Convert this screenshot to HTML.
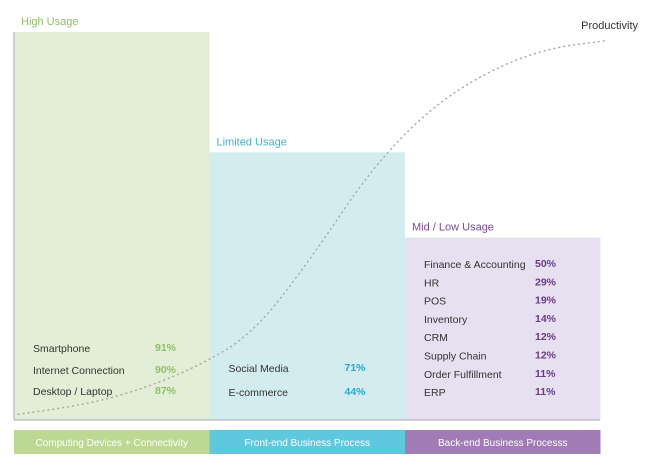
<!DOCTYPE html>
<html><head><meta charset="utf-8"><style>
body{margin:0;background:#fff;}
svg text{font-family:"Liberation Sans",sans-serif;}
</style></head><body>
<svg width="646" height="470" viewBox="0 0 646 470" xmlns="http://www.w3.org/2000/svg">
<g id="blocks"></g>
<line x1="14" y1="32" x2="14" y2="420" stroke="#b8b8b8" stroke-width="1.2"/>
<line x1="14" y1="420" x2="600" y2="420" stroke="#b8b8b8" stroke-width="1.2"/>
<path id="curve" fill="none" stroke="#a8a8a8" stroke-width="1.4" stroke-dasharray="1 4" stroke-linecap="round"/>
<text x="638" y="29" font-size="11" fill="#333" text-anchor="end">Productivity</text>
<g id="items"></g>
<g id="bands"></g>
</svg>
<script>
const groups = ["High Usage","Limited Usage","Mid / Low Usage"];
const groupHeights = [100, 69, 47];
const bandLabels = ["Computing Devices + Connectivity","Front-end Business Process","Back-end Business Processs"];
const items0 = ["Smartphone","Internet Connection","Desktop / Laptop"];
const vals0 = [91, 90, 87];
const items1 = ["Social Media","E-commerce"];
const vals1 = [71, 44];
const items2 = ["Finance & Accounting","HR","POS","Inventory","CRM","Supply Chain","Order Fulfillment","ERP"];
const vals2 = [50, 29, 19, 14, 12, 12, 11, 11];
const curveX = [0, 10, 20, 30, 40, 50, 60, 70, 80, 90, 100];
const curveY = [1, 3, 7, 13, 22, 42, 65, 81, 91, 97, 99];

const NS="http://www.w3.org/2000/svg";
const x0=14, colW=195.5, baseY=420, topY=32;
const yScale = v => baseY - v/100*(baseY-topY);
const cx = v => 18 + v/100*(605-18);
const cy = v => 418 - v/100*(418-37);
const fills=["#e2eed6","#d3ecef","#e6e0f0"];
const titleCol=["#8fc065","#3fb2cf","#7a4a92"];
const valCol=["#8fc065","#2aa9cc","#6b3a87"];
const bandCol=["#bcd892","#5ec8de","#a07bb5"];
function el(tag,attrs,parent,text){const e=document.createElementNS(NS,tag);for(const k in attrs)e.setAttribute(k,attrs[k]);if(text!==undefined)e.textContent=text;parent.appendChild(e);return e;}
const blocks=document.getElementById('blocks');
const bands=document.getElementById('bands');
const itemsG=document.getElementById('items');
groups.forEach((g,i)=>{
  const x=x0+i*colW, y=yScale(groupHeights[i]);
  const r=el('rect',{x:x,y:y,width:colW,height:baseY-y,fill:fills[i]},blocks);
  
  
  const t=el('text',{x:x+7,y:y-7,'font-size':11,fill:titleCol[i]},blocks,g);
  
  
  const b=el('rect',{x:x,y:430,width:colW,height:24,fill:bandCol[i]},bands);
  
  
  const bt=el('text',{x:x+colW/2,y:446,'font-size':10,fill:'#fff','text-anchor':'middle'},bands,bandLabels[i]);
  
  
});
function list(items,vals,i,ys,px){
  const x=x0+i*colW;
  items.forEach((n,k)=>{
    const a=el('text',{x:x+19,y:ys[k],'font-size':10.5,fill:'#333'},itemsG,n);
    
    
    const b=el('text',{x:x+px,y:ys[k]-1,'font-size':10.5,'font-weight':'bold',fill:valCol[i]},itemsG,vals[k]+'%');
    
    
  });
}
list(items0,vals0,0,[352,374,395],141);
list(items1,vals1,1,[372,396],135);
list(items2,vals2,2,items2.map((_,k)=>268+k*18.3),130);
let d='';
curveX.forEach((v,k)=>{d+=(k?'L':'M')+cx(v).toFixed(1)+' '+cy(curveY[k]).toFixed(1);});
// smooth via quadratic midpoints
let pts=curveX.map((v,k)=>[cx(v),cy(curveY[k])]);
d='M'+pts[0][0]+' '+pts[0][1];
for(let k=1;k<pts.length-1;k++){const mx=(pts[k][0]+pts[k+1][0])/2,my=(pts[k][1]+pts[k+1][1])/2;d+=' Q'+pts[k][0]+' '+pts[k][1]+' '+mx+' '+my;}
d+=' L'+pts[pts.length-1][0]+' '+pts[pts.length-1][1];
document.getElementById('curve').setAttribute('d',d);
</script>
</body></html>
